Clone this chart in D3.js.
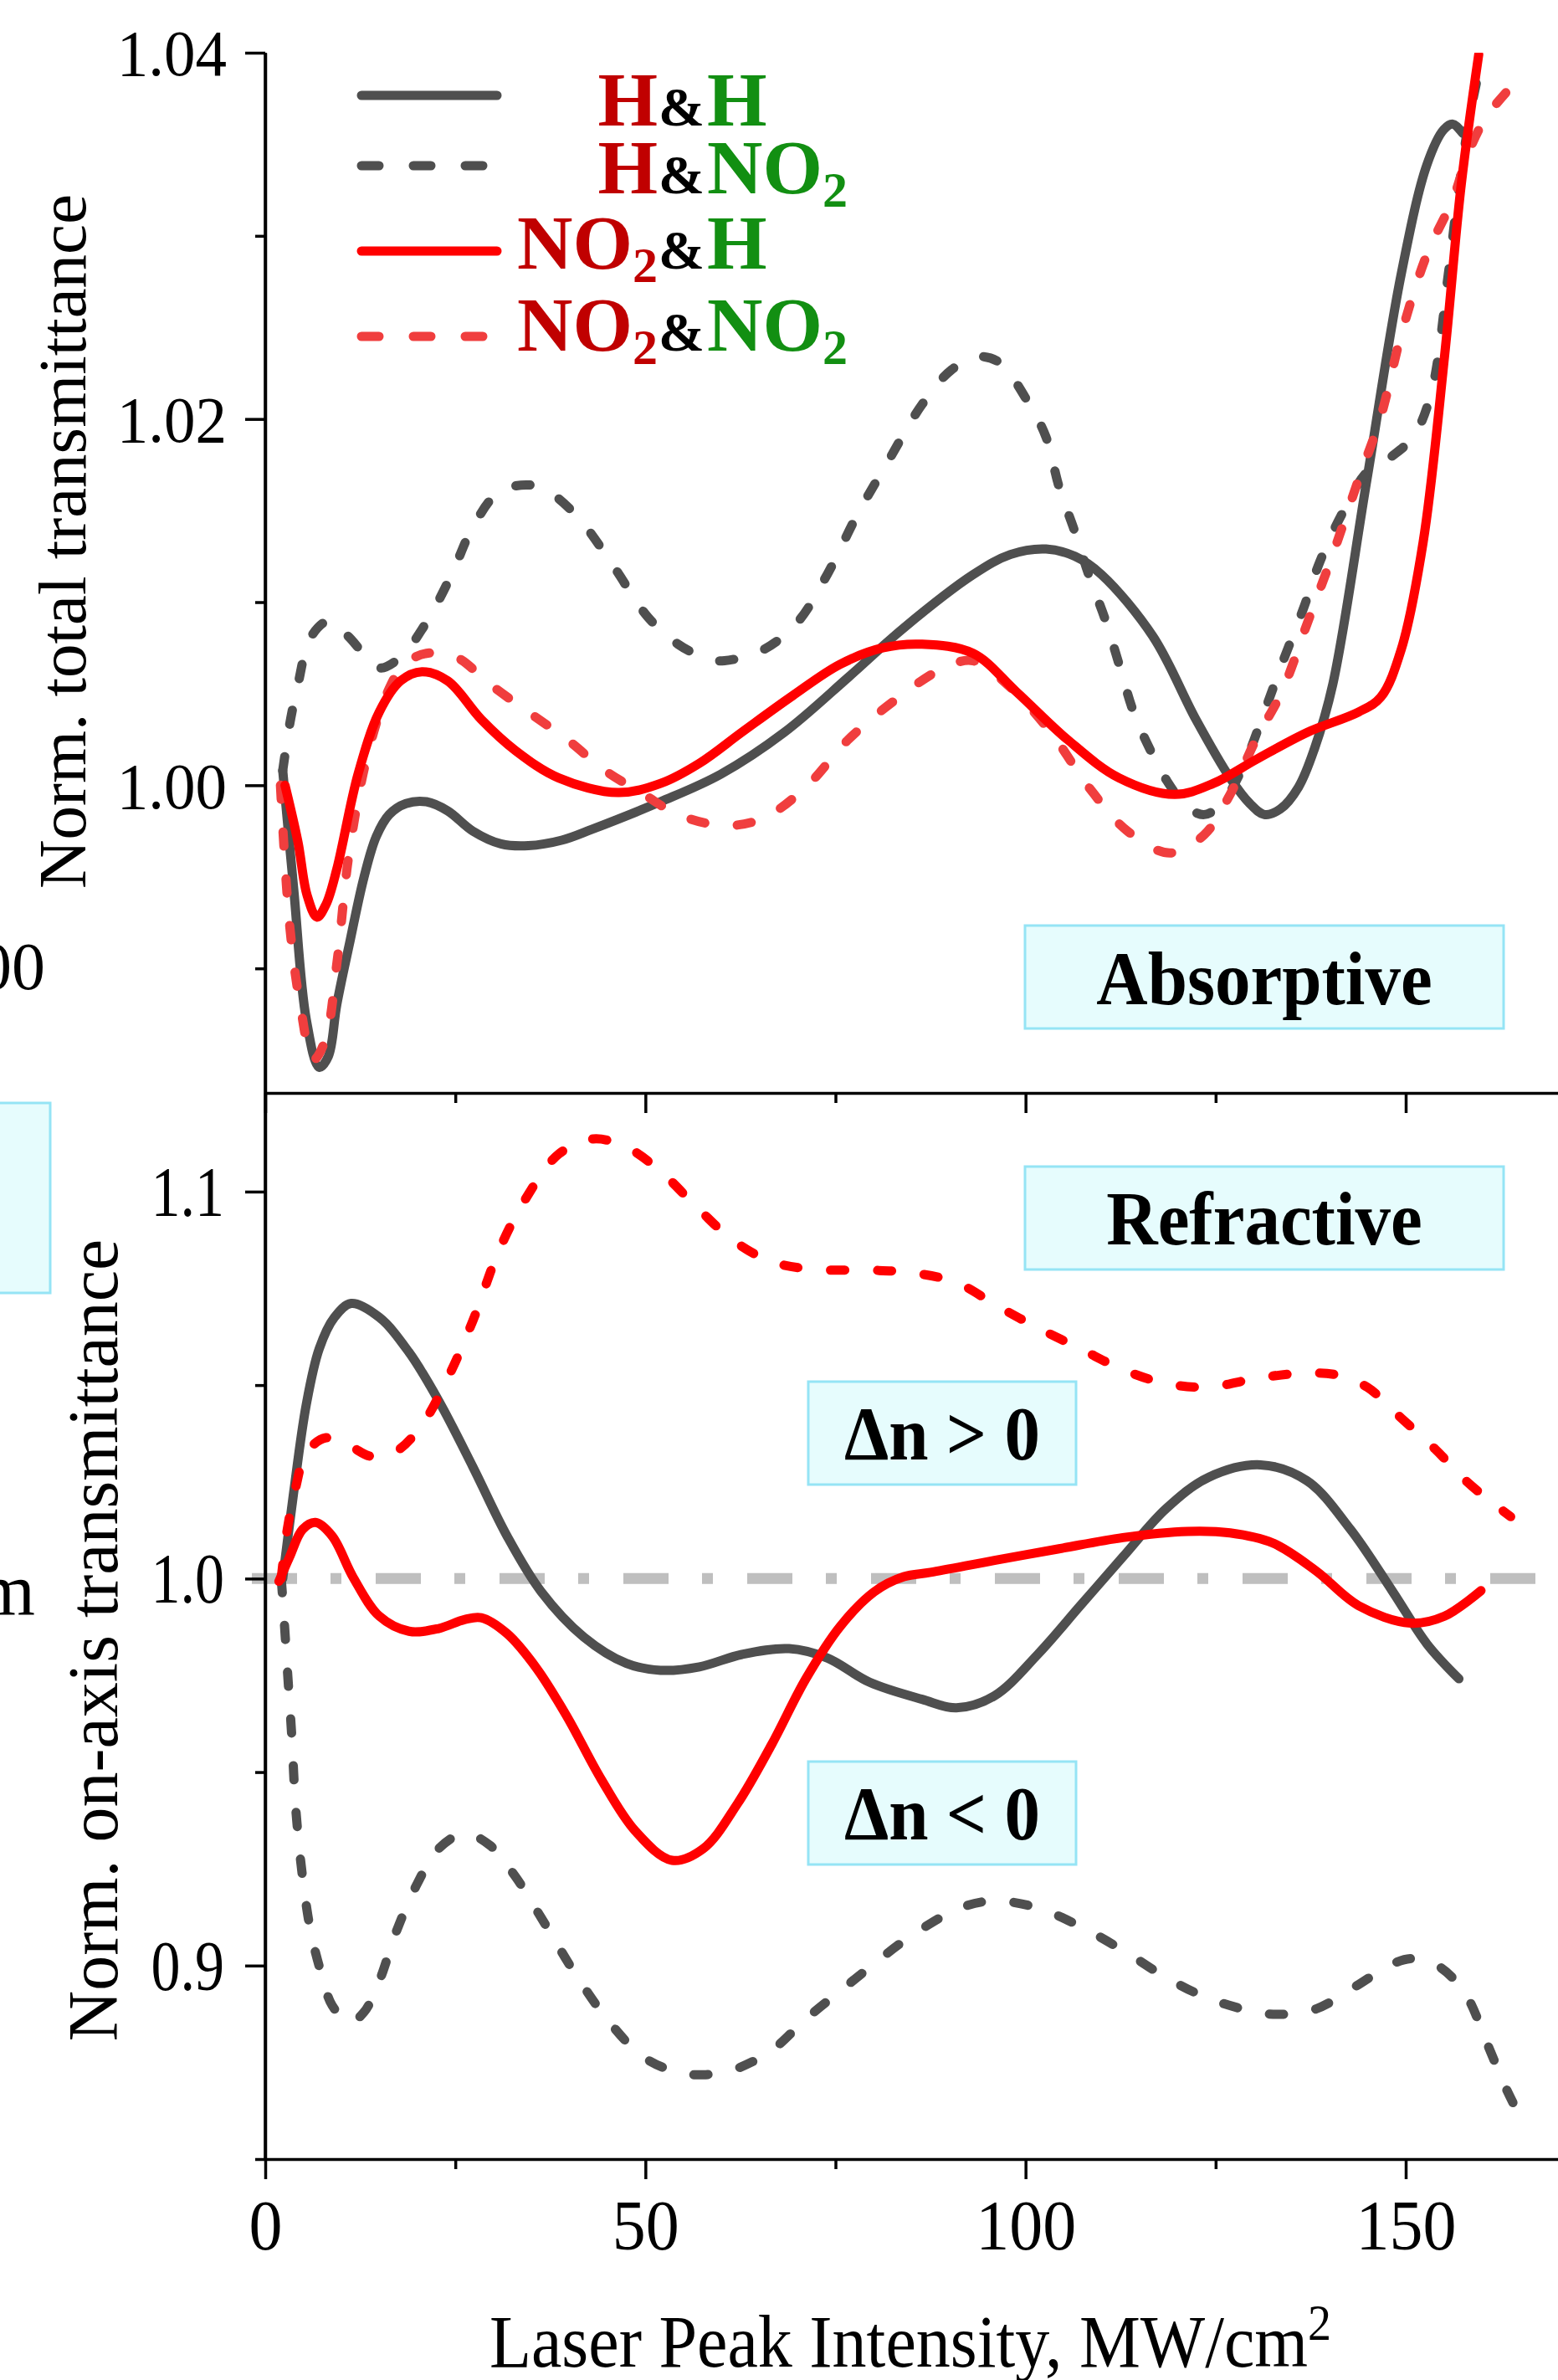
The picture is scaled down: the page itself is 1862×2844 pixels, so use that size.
<!DOCTYPE html>
<html>
<head>
<meta charset="utf-8">
<script src="https://cdn.jsdelivr.net/npm/d3@7"></script>
<style>
  body { margin: 0; background: #fff; }
  svg { display: block; }
  text { font-family: "Liberation Serif", "Times New Roman", serif; }
</style>
</head>
<body>
<div id="chart"></div>
<script>
// ---- data ----
const seriesNames = ["H&H", "H&NO2", "NO2&H", "NO2&NO2"];

// upper panel: normalized total transmittance
const absHH = [[2.3,1.0008],[3.75,0.9943],[5.4,0.9872],[7.1,0.9846],[8.3,0.9852],[9.4,0.988],[11,0.9912],[13,0.995],[14.6,0.9972],[16.3,0.9984],[18.5,0.999],[21.2,0.9991],[24,0.9986],[27.3,0.9975],[31,0.9968],[34.6,0.9967],[39,0.997],[43,0.9976],[52,0.9991],[59.9,1.0006],[68.3,1.0029],[76.7,1.0059],[84,1.0086],[93.1,1.0115],[98,1.0126],[102.7,1.0129],[106.5,1.0125],[110,1.0115],[116.8,1.0081],[122.4,1.0036],[126.9,1.0004],[129.5,0.999],[131.4,0.9984],[133.5,0.9987],[135.9,0.9999],[138,1.002],[140.4,1.0055],[144.9,1.0167],[149.4,1.0279],[152.8,1.0339],[155,1.0358],[156.2,1.0361],[157.5,1.0356]];
const absHNO2 = [[2.3,1.0008],[3.2,1.0033],[4.3,1.0055],[6,1.0081],[8.5,1.009],[11,1.0081],[13.3,1.007],[15,1.0064],[17.8,1.007],[21.2,1.0089],[24.5,1.0115],[27.3,1.0141],[30.7,1.016],[34.6,1.0164],[37.4,1.016],[41.4,1.0145],[45.9,1.0119],[50.3,1.0092],[54.3,1.0077],[58.2,1.0069],[60.4,1.0068],[65.5,1.0074],[70,1.0089],[73.9,1.0115],[77.9,1.0148],[81.8,1.0176],[86.4,1.0208],[90.3,1.0227],[93.7,1.0234],[96.5,1.0231],[100.5,1.0208],[102.7,1.019],[104.4,1.0163],[106.6,1.0137],[108.3,1.0115],[110.6,1.0089],[112.3,1.0066],[114.2,1.004],[116.2,1.0021],[118.5,1.0003],[121.3,0.9988],[123.5,0.9984],[125.8,0.999],[128.6,1.001],[131.4,1.004],[133.7,1.0066],[136.5,1.0096],[138.7,1.0122],[141.6,1.0148],[144.9,1.0171],[148.3,1.018],[151.1,1.0191],[153.4,1.0215],[155.6,1.0279],[156.8,1.032],[158.4,1.0365],[159.9,1.0395]];
const absNO2H = [[2.6,1.0],[4.3,0.9969],[5.5,0.994],[6.8,0.9928],[8,0.9935],[9.4,0.9954],[12.2,1.0006],[15,1.004],[17.8,1.0057],[20.6,1.0062],[24,1.0057],[28.4,1.0036],[32.9,1.0019],[38.6,1.0004],[46.4,0.9996],[52,1.0001],[57.1,1.0012],[62.7,1.0029],[69.4,1.0049],[75.6,1.0066],[81.2,1.0075],[86.4,1.0077],[93.1,1.0072],[98.8,1.0051],[105.5,1.0025],[112.3,1.0004],[119.6,0.9995],[124.7,1.0001],[130.3,1.0014],[137.1,1.0029],[143.8,1.004],[146.7,1.0048],[149.4,1.0074],[152.3,1.0133],[155.1,1.0234],[157.3,1.0328],[159.6,1.0399]];
const absNO2NO2 = [[2,1.0],[3.2,0.9924],[4.6,0.988],[6.3,0.985],[7.9,0.9861],[9.4,0.9902],[11,0.9962],[13.3,1.0014],[16.1,1.0051],[18.3,1.0066],[21.2,1.0072],[25.1,1.007],[29.6,1.0055],[34.6,1.004],[39.7,1.0025],[44.7,1.0008],[49.8,0.9995],[54.3,0.9984],[60.4,0.9978],[65.5,0.9982],[71.1,0.9999],[76.7,1.0025],[83,1.0047],[89.2,1.0064],[93.1,1.0068],[97.6,1.0055],[103.3,1.0029],[108.3,0.9999],[113.4,0.9975],[119,0.9963],[123.5,0.9973],[126.9,0.9995],[130.3,1.0025],[133.7,1.0051],[137.1,1.0089],[140.4,1.0126],[143.8,1.0167],[146.7,1.0201],[149.4,1.0246],[152.8,1.029],[156.2,1.032],[158.4,1.0347],[160.6,1.0365],[164,1.0382]];

// lower panel: normalized on-axis transmittance
const refHH = [[2.3,1.0],[3.7,1.0217],[5.4,1.045],[7.1,1.0594],[9.1,1.0675],[11.3,1.0711],[15,1.0675],[18.9,1.0585],[22.8,1.046],[27.3,1.0289],[31.8,1.011],[36.3,0.9966],[41.9,0.9849],[47.5,0.9781],[52,0.9763],[57.1,0.9772],[62.7,0.9804],[68.9,0.9819],[73.9,0.9795],[79.5,0.9732],[86.4,0.9688],[90.9,0.9666],[95.9,0.9697],[101.6,0.9804],[107.2,0.993],[112.8,1.0056],[118.5,1.0181],[124.1,1.0262],[130.9,1.0294],[137,1.0253],[142.7,1.0128],[148.3,0.9966],[152.8,0.9831],[157,0.9741]];
const refHNO2 = [[2.1,1.0],[2.3,0.9948],[2.9,0.9768],[3.5,0.9589],[4,0.9409],[4.9,0.923],[6,0.9086],[7.4,0.8978],[8.8,0.8897],[11.1,0.8853],[13,0.888],[15,0.896],[17.2,0.9086],[20,0.9212],[22.8,0.9302],[26.2,0.9341],[29.6,0.931],[32.9,0.923],[36.9,0.9104],[40.8,0.8978],[45.3,0.8853],[49.8,0.8763],[54.3,0.8724],[57.6,0.8718],[61.6,0.8731],[66.6,0.8781],[71.1,0.8862],[75.6,0.8934],[80.1,0.9005],[84.6,0.9072],[91.4,0.9149],[95.9,0.9167],[101.6,0.9149],[107.8,0.9095],[113.4,0.9032],[118.5,0.8969],[124.1,0.8915],[130.3,0.888],[133.7,0.8874],[138.2,0.8888],[143.8,0.8951],[148.3,0.9005],[151.1,0.9018],[154.5,0.8996],[157.9,0.8925],[160.7,0.8799],[163,0.8691],[164.1,0.8646]];
const refNO2H = [[1.8,0.9993],[3.2,1.0056],[4.9,1.0127],[6.6,1.0145],[8.8,1.011],[11.6,1.0002],[15,0.9903],[18.9,0.9864],[22.8,0.9871],[26.2,0.9894],[28.4,0.9899],[31.8,0.9858],[35.7,0.9768],[39.7,0.9643],[44.2,0.9481],[48.7,0.9347],[53.5,0.9272],[57.6,0.9302],[62.1,0.9418],[66.6,0.9571],[71.1,0.9741],[75.6,0.9876],[80.1,0.9966],[84,1.0005],[87.5,1.0016],[95.9,1.0047],[104.4,1.0077],[112.8,1.0106],[121.3,1.0122],[126.9,1.0118],[132.5,1.0092],[138.2,1.002],[143.8,0.993],[150.6,0.9885],[155.1,0.9903],[159.9,0.9969]];
const refNO2NO2 = [[2.1,1.0],[2.9,1.0127],[4,1.0235],[5.4,1.0325],[8,1.0364],[11.1,1.0343],[13.9,1.0316],[17.2,1.0329],[20.6,1.0397],[23.9,1.0514],[27.3,1.0666],[30.7,1.0846],[34.2,1.098],[38.6,1.1097],[43.1,1.1136],[47.5,1.1115],[52,1.1052],[57.1,1.0953],[61.6,1.0873],[66.6,1.0819],[72.2,1.0799],[79.6,1.0797],[85.2,1.079],[90.9,1.0765],[96.5,1.0702],[101.6,1.0648],[107.2,1.0594],[112.8,1.054],[118.5,1.0504],[124.1,1.0495],[130.3,1.0517],[136.5,1.0531],[141,1.0526],[144.9,1.0495],[149.4,1.0415],[153.9,1.0334],[157.9,1.0253],[161.8,1.019],[163.8,1.016]];
const refBaseline = 1.0;

// ticks
const xMajorTicks = [0, 50, 100, 150];
const xMinorTicks = [25, 75, 125];
const xTickLabels = ["0", "50", "100", "150"];
const absMajorTicks = [1.00, 1.02, 1.04];
const absMinorTicks = [0.99, 1.01, 1.03];
const absTickLabels = ["1.00", "1.02", "1.04"];
const refMajorTicks = [0.9, 1.0, 1.1];
const refMinorTicks = [0.85, 0.95, 1.05];
const refTickLabels = ["0.9", "1.0", "1.1"];

// ---- layout / style ----
const W = 1862, H = 2844;
const left = 317, right = 1862;
const topY0 = 63, midY = 1306, botY = 2580;

const GRAY = "#4f4f4f", RED = "#ff0000", LRED = "#f03e3e";
const DKRED = "#c00000", GREEN = "#128f12";

const svg = d3.select("#chart").append("svg")
  .attr("width", W).attr("height", H)
  .attr("viewBox", `0 0 ${W} ${H}`);

const x = d3.scaleLinear().domain([0, 170]).range([left, left + 170 * 9.0867]);
const yAbs = d3.scaleLinear().domain([0.9832, 1.04]).range([midY, topY0]);
const yRef = d3.scaleLinear().domain([0.85, 1.1255]).range([botY, midY]);

const defs = svg.append("defs");
defs.append("clipPath").attr("id", "clipAbs").append("rect")
  .attr("x", left).attr("y", topY0).attr("width", right - left).attr("height", midY - topY0);
defs.append("clipPath").attr("id", "clipRef").append("rect")
  .attr("x", left).attr("y", midY).attr("width", right - left).attr("height", botY - midY);

// remnants of the neighbouring panel at the left edge (cropped in the original)
svg.append("rect").attr("x", -10).attr("y", 1318).attr("width", 70).attr("height", 227)
  .attr("fill", "#e6fcfd").attr("stroke", "#95e4f5").attr("stroke-width", 3);
svg.append("text").attr("x", 54).attr("y", 1182).attr("text-anchor", "end")
  .attr("font-size", 80).text("1.00");
svg.append("text").attr("x", 42).attr("y", 1930).attr("text-anchor", "end")
  .attr("font-size", 88).text("nm");

// ---- annotation boxes ----
const boxes = [
  { label: "Absorptive", x0: 1225, x1: 1797, y0: 1106, y1: 1229, base: 1200 },
  { label: "Refractive", x0: 1225, x1: 1797, y0: 1394, y1: 1517, base: 1487 },
  { label: "\u0394n > 0", x0: 966, x1: 1286, y0: 1651, y1: 1774, base: 1744 },
  { label: "\u0394n < 0", x0: 966, x1: 1286, y0: 2105, y1: 2228, base: 2198 }
];
const boxG = svg.append("g");
boxes.forEach(b => {
  boxG.append("rect").attr("x", b.x0).attr("y", b.y0)
    .attr("width", b.x1 - b.x0).attr("height", b.y1 - b.y0)
    .attr("fill", "#e6fcfd").attr("stroke", "#95e4f5").attr("stroke-width", 3);
  boxG.append("text")
    .attr("transform", `translate(${(b.x0 + b.x1) / 2},${b.base}) scale(1,1.08)`)
    .attr("text-anchor", "middle").attr("font-weight", "bold").attr("font-size", 85)
    .text(b.label);
});

// ---- reference line y = 1 in the lower panel ----
svg.append("line")
  .attr("x1", 301).attr("x2", right)
  .attr("y1", yRef(refBaseline)).attr("y2", yRef(refBaseline))
  .attr("stroke", "#bfbfbf").attr("stroke-width", 13)
  .attr("stroke-dasharray", "54,40,13,41");

// ---- curves ----
const line = (ys) => d3.line()
  .x(d => x(d[0])).y(d => ys(d[1]))
  .curve(d3.curveCatmullRom.alpha(0.5));

const DASH = "17,39";
function drawSeries(data, ys, clip, color, dashed) {
  svg.append("path")
    .datum(data)
    .attr("clip-path", `url(#${clip})`)
    .attr("fill", "none")
    .attr("stroke", color)
    .attr("stroke-width", 11)
    .attr("stroke-linecap", "round")
    .attr("stroke-linejoin", "round")
    .attr("stroke-dasharray", dashed ? DASH : null)
    .attr("d", line(ys));
}

drawSeries(absHH, yAbs, "clipAbs", GRAY, false);
drawSeries(absHNO2, yAbs, "clipAbs", GRAY, true);
drawSeries(absNO2NO2, yAbs, "clipAbs", LRED, true);
drawSeries(absNO2H, yAbs, "clipAbs", RED, false);

drawSeries(refHH, yRef, "clipRef", GRAY, false);
drawSeries(refHNO2, yRef, "clipRef", GRAY, true);
drawSeries(refNO2H, yRef, "clipRef", RED, false);
drawSeries(refNO2NO2, yRef, "clipRef", RED, true);

// ---- axes ----
function styleAxis(g) {
  g.attr("font-size", null).attr("font-family", null);
  g.selectAll("path, line").attr("stroke", "#000").attr("stroke-width", 3.5);
}
function stretchText(sel, sy) {
  sel.each(function () {
    const t = d3.select(this);
    const yv = +t.attr("y") || 0;
    t.attr("y", yv / sy).attr("transform", `scale(1,${sy})`);
  });
}

// upper panel y
svg.append("g").attr("transform", `translate(${left},0)`)
  .call(d3.axisLeft(yAbs).tickValues(absMajorTicks).tickFormat((d, i) => absTickLabels[i])
    .tickSize(24).tickSizeOuter(0).tickPadding(22))
  .call(styleAxis)
  .call(g => g.selectAll("text").attr("font-size", 75).attr("fill", "#000").attr("dy", "0.34em"))
  .call(g => stretchText(g.selectAll("text"), 1.05));
svg.append("g").attr("transform", `translate(${left},0)`)
  .call(d3.axisLeft(yAbs).tickValues(absMinorTicks).tickFormat("").tickSize(12).tickSizeOuter(0))
  .call(styleAxis).call(g => g.select(".domain").remove());

// upper panel x (ticks only)
svg.append("g").attr("transform", `translate(0,${midY})`)
  .call(d3.axisBottom(x).tickValues(xMajorTicks).tickFormat("").tickSize(24).tickSizeOuter(0))
  .call(styleAxis);
svg.append("g").attr("transform", `translate(0,${midY})`)
  .call(d3.axisBottom(x).tickValues(xMinorTicks).tickFormat("").tickSize(12).tickSizeOuter(0))
  .call(styleAxis).call(g => g.select(".domain").remove());

// lower panel y
svg.append("g").attr("transform", `translate(${left},0)`)
  .call(d3.axisLeft(yRef).tickValues(refMajorTicks).tickFormat((d, i) => refTickLabels[i])
    .tickSize(24).tickSizeOuter(0).tickPadding(25))
  .call(styleAxis)
  .call(g => g.selectAll("text").attr("font-size", 70).attr("fill", "#000").attr("dy", "0.34em"))
  .call(g => stretchText(g.selectAll("text"), 1.2));
svg.append("g").attr("transform", `translate(${left},0)`)
  .call(d3.axisLeft(yRef).tickValues(refMinorTicks).tickFormat("").tickSize(12).tickSizeOuter(0))
  .call(styleAxis).call(g => g.select(".domain").remove());

// lower panel x
svg.append("g").attr("transform", `translate(0,${botY})`)
  .call(d3.axisBottom(x).tickValues(xMajorTicks).tickFormat((d, i) => xTickLabels[i])
    .tickSize(24).tickSizeOuter(0))
  .call(styleAxis)
  .call(g => g.selectAll("text").attr("font-size", 80).attr("fill", "#000").attr("dy", null).attr("y", 108))
  .call(g => stretchText(g.selectAll("text"), 1.05));
svg.append("g").attr("transform", `translate(0,${botY})`)
  .call(d3.axisBottom(x).tickValues(xMinorTicks).tickFormat("").tickSize(12).tickSizeOuter(0))
  .call(styleAxis).call(g => g.select(".domain").remove());

// y-axis segment joining both panels
svg.append("line").attr("x1", left).attr("x2", left).attr("y1", topY0).attr("y2", botY + 2)
  .attr("stroke", "#000").attr("stroke-width", 3.5);

// ---- axis titles ----
svg.append("text")
  .attr("transform", "translate(102,647) rotate(-90)")
  .attr("text-anchor", "middle").attr("font-size", 81)
  .text("Norm. total transmittance");
svg.append("text")
  .attr("transform", "translate(140,1960) rotate(-90)")
  .attr("text-anchor", "middle").attr("font-size", 84)
  .text("Norm. on-axis transmittance");
const xt = svg.append("text")
  .attr("transform", "translate(1088,2828) scale(1,1.08)")
  .attr("text-anchor", "middle").attr("font-size", 82);
xt.append("tspan").text("Laser Peak Intensity, MW/cm");
xt.append("tspan").attr("font-size", 56).attr("dy", -30).text("2");

// ---- legend ----
const legRowY = [114, 198, 300, 402];
const legTextY = [150, 231, 321, 419];
const legStyle = [
  { color: GRAY, dashed: false }, { color: GRAY, dashed: true },
  { color: RED, dashed: false }, { color: LRED, dashed: true }
];
const ampX = 787;
const legend = svg.append("g");

// "NO2" -> NO + subscript 2; first tspan may be placed at (x0, y0)
function chemText(sel, s, color, x0, y0) {
  const m = s.match(/^([A-Z]+?)(\d?)$/);
  const first = sel.append("tspan").attr("fill", color).attr("font-size", 92).text(m[1]);
  if (x0 != null) first.attr("x", x0).attr("y", y0);
  if (m[2]) {
    sel.append("tspan").attr("fill", color).attr("font-size", 60).attr("dy", 16).text(m[2]);
  }
}

seriesNames.forEach((name, i) => {
  const st = legStyle[i];
  legend.append("line")
    .attr("x1", 432).attr("x2", st.dashed ? 580 : 594)
    .attr("y1", legRowY[i]).attr("y2", legRowY[i])
    .attr("stroke", st.color).attr("stroke-width", 11).attr("stroke-linecap", "round")
    .attr("stroke-dasharray", st.dashed ? "21,41" : null);

  const [a, b] = name.split("&");
  // measure the left part so the "&" lines up in every row
  const probe = legend.append("text").attr("font-weight", "bold");
  chemText(probe, a, DKRED);
  const wLeft = probe.node().getComputedTextLength();
  probe.remove();

  const t = legend.append("text").attr("font-weight", "bold");
  chemText(t, a, DKRED, ampX - 1 - wLeft, legTextY[i]);
  t.append("tspan").attr("x", ampX).attr("y", legTextY[i])
    .attr("font-size", 66).attr("fill", "#000").text("&");
  chemText(t, b, GREEN, ampX + 58, legTextY[i]);
});
</script>
</body>
</html>
